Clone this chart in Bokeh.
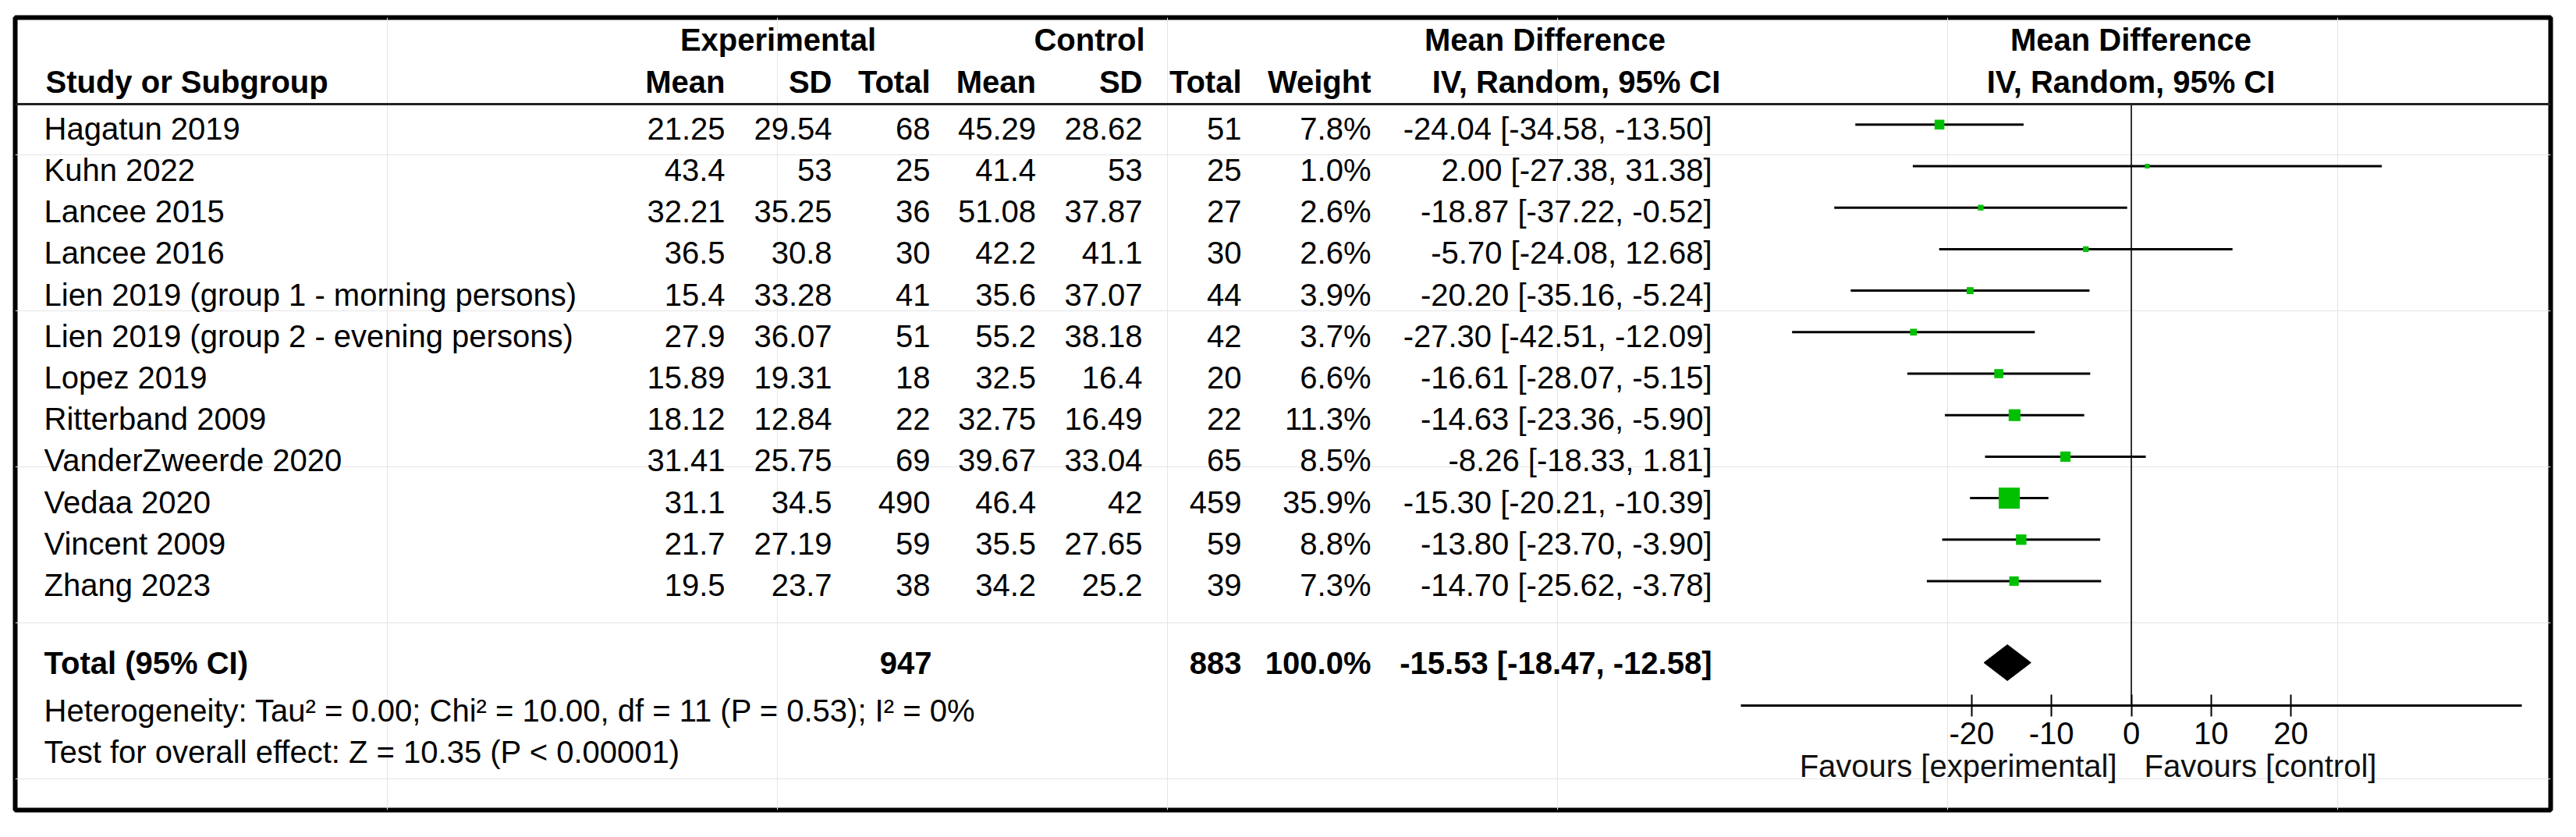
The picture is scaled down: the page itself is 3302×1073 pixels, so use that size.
import math
from bokeh.plotting import figure
from bokeh.models import ColumnDataSource, Range1d, LinearAxis, FixedTicker, Span
from bokeh.core.properties import value
from bokeh.embed import file_html
from bokeh.resources import INLINE

# ---------------- data ----------------
studies = [
    "Hagatun 2019", "Kuhn 2022", "Lancee 2015", "Lancee 2016",
    "Lien 2019 (group 1 - morning persons)", "Lien 2019 (group 2 - evening persons)",
    "Lopez 2019", "Ritterband 2009", "VanderZweerde 2020", "Vedaa 2020",
    "Vincent 2009", "Zhang 2023",
]
exp_mean = [21.25, 43.4, 32.21, 36.5, 15.4, 27.9, 15.89, 18.12, 31.41, 31.1, 21.7, 19.5]
exp_sd = [29.54, 53, 35.25, 30.8, 33.28, 36.07, 19.31, 12.84, 25.75, 34.5, 27.19, 23.7]
exp_n = [68, 25, 36, 30, 41, 51, 18, 22, 69, 490, 59, 38]
ctl_mean = [45.29, 41.4, 51.08, 42.2, 35.6, 55.2, 32.5, 32.75, 39.67, 46.4, 35.5, 34.2]
ctl_sd = [28.62, 53, 37.87, 41.1, 37.07, 38.18, 16.4, 16.49, 33.04, 42, 27.65, 25.2]
ctl_n = [51, 25, 27, 30, 44, 42, 20, 22, 65, 459, 59, 39]
weight = [7.8, 1.0, 2.6, 2.6, 3.9, 3.7, 6.6, 11.3, 8.5, 35.9, 8.8, 7.3]
md = [-24.04, 2.00, -18.87, -5.70, -20.20, -27.30, -16.61, -14.63, -8.26, -15.30, -13.80, -14.70]
ci_lo = [-34.58, -27.38, -37.22, -24.08, -35.16, -42.51, -28.07, -23.36, -18.33, -20.21, -23.70, -25.62]
ci_hi = [-13.50, 31.38, -0.52, 12.68, -5.24, -12.09, -5.15, -5.90, 1.81, -10.39, -3.90, -3.78]

total_exp_n = 947
total_ctl_n = 883
total_weight = 100.0
total_md = -15.53
total_lo = -18.47
total_hi = -12.58

tau2 = 0.00
chi2 = 10.00
df_het = 11
p_het = 0.53
i2 = 0
z_overall = 10.35
p_overall = "< 0.00001"

tick_values = [-20, -10, 0, 10, 20]
null_value = 0
axis_bounds = (-48.9, 48.9)

label_left = "Favours [experimental]"
label_right = "Favours [control]"

# ---------------- layout constants (reference pixels) ----------------
FONT = value("Liberation Sans")
FS = "40px"
FX0, FX1 = 23, 3273          # frame (border) x
FY0, FY1 = 24, 1040          # frame (border) y
ZERO_PX = 2735.5
PX_PER_UNIT = 10.23
Y0, DY = 161.3, 53.2
TXT_OFF = 21
TEXT_DY = -16                # baseline correction for rendered text
HDR_LINE_Y = 135
AXIS_Y = 906
TOTAL_Y = 851

p = figure(
    frame_width=FX1 - FX0, frame_height=FY1 - FY0,
    x_range=Range1d(FX0, FX1), y_range=Range1d(FY1, FY0),
    x_axis_location=None, y_axis_location=None,
    toolbar_location=None, output_backend="svg", title=None,
    min_border_left=19, min_border_right=6, min_border_top=22, min_border_bottom=6,
    outline_line_color="black", outline_line_width=6,
    background_fill_color="white", border_fill_color="white",
)
p.extra_x_ranges = {"md": Range1d((FX0 - ZERO_PX) / PX_PER_UNIT, (FX1 - ZERO_PX) / PX_PER_UNIT)}

n = len(studies)
row_y = [Y0 + i * DY for i in range(n)]
txt_y = [y + TXT_OFF for y in row_y]


def fmt(v):
    return f"{v:g}"


def put(xs, ys, texts, align="left", bold=False, color="black"):
    src = ColumnDataSource(dict(x=xs, y=[y + TEXT_DY for y in ys], t=texts))
    p.text(x="x", y="y", text="t", source=src, text_align=align,
           text_baseline="alphabetic", text_font=FONT, text_font_size=FS,
           text_font_style="bold" if bold else "normal", text_color=color)


# header rows
put([1001, 1400, 1984, 2735], [68.5] * 4,
    ["Experimental", "Control", "Mean Difference", "Mean Difference"], align="center", bold=True)
put([62], [122], ["Study or Subgroup"], bold=True)
put([933, 1070, 1196, 1331.5, 1468, 1595, 1761], [122] * 7,
    ["Mean", "SD", "Total", "Mean", "SD", "Total", "Weight"], align="right", bold=True)
put([2024, 2735], [122] * 2, ["IV, Random, 95% CI", "IV, Random, 95% CI"], align="center", bold=True)

p.add_layout(Span(location=HDR_LINE_Y, dimension="width", line_color="#222222", line_width=3))

# study rows
put([60] * n, txt_y, studies)
put([933] * n, txt_y, [fmt(v) for v in exp_mean], align="right")
put([1070] * n, txt_y, [fmt(v) for v in exp_sd], align="right")
put([1196] * n, txt_y, [str(v) for v in exp_n], align="right")
put([1331.5] * n, txt_y, [fmt(v) for v in ctl_mean], align="right")
put([1468] * n, txt_y, [fmt(v) for v in ctl_sd], align="right")
put([1595] * n, txt_y, [str(v) for v in ctl_n], align="right")
put([1761] * n, txt_y, [f"{w:.1f}%" for w in weight], align="right")
put([2198] * n, txt_y, [f"{m:.2f} [{l:.2f}, {h:.2f}]" for m, l, h in zip(md, ci_lo, ci_hi)], align="right")

# total row
ty = TOTAL_Y + 16
put([60], [ty], ["Total (95% CI)"], bold=True)
put([1198, 1595, 1761, 2198], [ty] * 4,
    [str(total_exp_n), str(total_ctl_n), f"{total_weight:.1f}%",
     f"{total_md:.2f} [{total_lo:.2f}, {total_hi:.2f}]"], align="right", bold=True)

# footer
put([60], [928], [f"Heterogeneity: Tau\u00b2 = {tau2:.2f}; Chi\u00b2 = {chi2:.2f}, df = {df_het} (P = {p_het:.2f}); I\u00b2 = {i2}%"])
put([60], [981], [f"Test for overall effect: Z = {z_overall:.2f} (P {p_overall})"])

put([2717], [999], [label_left], align="right", color="#111111")
put([2752], [999], [label_right], align="left", color="#111111")

# forest plot
p.segment(x0=[null_value], x1=[null_value], y0=[HDR_LINE_Y], y1=[AXIS_Y],
          line_color="#333333", line_width=2, x_range_name="md")

ci_src = ColumnDataSource(dict(lo=ci_lo, hi=ci_hi, y=row_y, md=md,
                               sz=[max(6.0, 27 * math.sqrt(w / max(weight))) for w in weight]))
p.segment(x0="lo", x1="hi", y0="y", y1="y", source=ci_src,
          line_color="black", line_width=3, x_range_name="md")
p.rect(x="md", y="y", width="sz", height="sz", width_units="screen", height_units="screen",
       source=ci_src, fill_color="#00C000", line_color=None, x_range_name="md")

p.patch(x=[total_lo, total_md, total_hi, total_md],
        y=[TOTAL_Y, TOTAL_Y - 23, TOTAL_Y, TOTAL_Y + 23],
        fill_color="black", line_color="black", line_width=1, x_range_name="md")

axis = LinearAxis(x_range_name="md", fixed_location=AXIS_Y, bounds=axis_bounds,
                  ticker=FixedTicker(ticks=tick_values))
axis.major_label_overrides = {v: str(v) for v in tick_values}
axis.axis_line_width = 3
axis.axis_line_color = "black"
axis.major_tick_line_width = 2
axis.major_tick_line_color = "black"
axis.major_tick_in = 14
axis.major_tick_out = 14
axis.minor_tick_line_color = None
axis.major_label_standoff = 7
axis.major_label_text_font = "Liberation Sans"
axis.major_label_text_font_size = FS
axis.major_label_text_color = "black"
p.add_layout(axis, "below")

open("out.html", "w").write(file_html(p, INLINE))
